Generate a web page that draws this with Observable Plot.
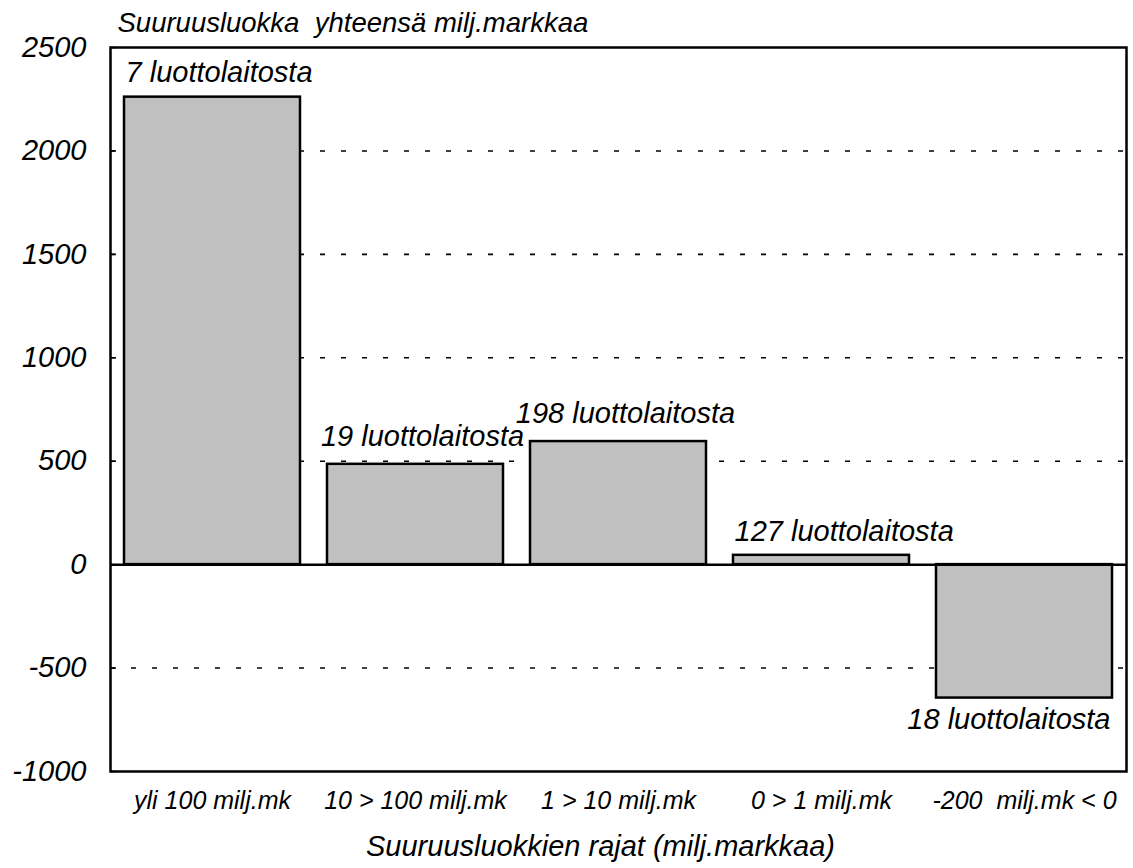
<!DOCTYPE html>
<html>
<head>
<meta charset="utf-8">
<script src="https://cdn.jsdelivr.net/npm/d3@7"></script>
<script src="https://cdn.jsdelivr.net/npm/@observablehq/plot@0.6"></script>
<style>
  html, body { margin: 0; padding: 0; background: #fff; }
  #chart svg { display: block; }
</style>
</head>
<body>
<div id="chart"></div>
<script>
// ---- data ----
const categories = ["yli 100 milj.mk", "10 > 100 milj.mk", "1 > 10 milj.mk", "0 > 1 milj.mk", "-200  milj.mk < 0"];
const values = [2260, 485, 595, 45, -645];
const barLabels = ["7 luottolaitosta", "19 luottolaitosta", "198 luottolaitosta", "127 luottolaitosta", "18 luottolaitosta"];
const labelAlign = ["start", "middle", "middle", "start", "end"];
const yTicks = [-1000, -500, 0, 500, 1000, 1500, 2000, 2500];
const gridValues = [-500, 500, 1000, 1500, 2000];
const titleText = "Suuruusluokka  yhteensä milj.markkaa";
const xTitleText = "Suuruusluokkien rajat (milj.markkaa)";

const rows = categories.map((c, i) => ({cat: c, value: values[i], label: barLabels[i], align: labelAlign[i]}));

const font = "'Liberation Sans', Arial, Helvetica, sans-serif";
const halfBand = 88; // half of bar width in px (style offset for label alignment)
const labelSize = 29;

const chart = Plot.plot({
  width: 1133,
  height: 868,
  marginLeft: 110,
  marginRight: 7,
  marginTop: 47,
  marginBottom: 97,
  style: {fontFamily: font, fontStyle: "italic", background: "#fff", color: "#000"},
  x: {domain: categories, paddingInner: 0.135, paddingOuter: 0.0675, label: null},
  y: {domain: [-1000, 2500], label: null},
  marks: [
    Plot.ruleY(gridValues, {stroke: "#000", strokeWidth: 1.6, strokeDasharray: "5,16"}),
    Plot.barY(rows, {x: "cat", y: "value", fill: "#c0c0c0", stroke: "#000", strokeWidth: 2.5}),
    Plot.ruleY([0], {stroke: "#000", strokeWidth: 2.5}),
    Plot.frame({stroke: "#000", strokeWidth: 2.5}),
    Plot.axisY({ticks: yTicks, tickFormat: d => String(d), tickSize: -6, tickPadding: 30, fontSize: 29, strokeWidth: 1.5}),
    Plot.axisX({tickSize: 0, tickPadding: 20, fontSize: 25}),
    Plot.text(rows.filter(d => d.align === "start"), {x: "cat", y: "value", text: "label", textAnchor: "start", dx: -halfBand + 1, dy: -24, fontSize: labelSize, fill: "#000"}),
    Plot.text(rows.filter(d => d.align === "middle"), {x: "cat", y: "value", text: "label", dx: 7, dy: -28, fontSize: labelSize, fill: "#000"}),
    Plot.text(rows.filter(d => d.align === "end"), {x: "cat", y: "value", text: "label", textAnchor: "end", dx: halfBand - 2, dy: 22, fontSize: labelSize, fill: "#000"}),
    Plot.text([titleText], {frameAnchor: "top-left", text: d => d, textAnchor: "start", dx: 7, dy: -35, fontSize: 27.5, fill: "#000"}),
    Plot.text([xTitleText], {frameAnchor: "bottom", text: d => d, dx: -18, dy: 84, fontSize: 29, fill: "#000"})
  ]
});
document.getElementById("chart").appendChild(chart);
</script>
</body>
</html>
